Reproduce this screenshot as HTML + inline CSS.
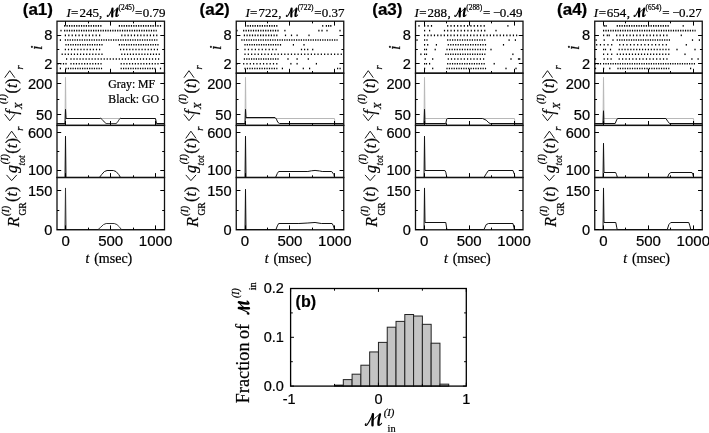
<!DOCTYPE html><html><head><meta charset="utf-8"><style>html,body{margin:0;padding:0;background:#fff;}svg{display:block;will-change:transform;}text{stroke:#000;stroke-width:0.22px;}</style></head><body>
<svg width="709" height="433" viewBox="0 0 709 433">
<rect width="709" height="433" fill="#fff"/>
<path d="M64.1 25.87 H101.5" stroke="#000" stroke-width="1.6" stroke-dasharray="1.2 1.21"/>
<path d="M118.8 25.87 H158.6" stroke="#000" stroke-width="1.6" stroke-dasharray="1.2 1.21"/>
<rect x="159.9" y="25.07" width="1.2" height="1.6" fill="#000"/>
<rect x="60.4" y="29.8" width="1.2" height="1.6" fill="#000"/>
<path d="M64.1 30.6 H156.7" stroke="#000" stroke-width="1.6" stroke-dasharray="1.2 1.21"/>
<path d="M64.8 35.34 H100.2" stroke="#000" stroke-width="1.6" stroke-dasharray="1.2 2.22"/>
<path d="M121.2 35.34 H157.4" stroke="#000" stroke-width="1.6" stroke-dasharray="1.2 1.98"/>
<rect x="59.8" y="39.27" width="1.2" height="1.6" fill="#000"/>
<path d="M64.8 40.07 H157.4" stroke="#000" stroke-width="1.6" stroke-dasharray="1.2 1.21"/>
<path d="M65.4 44.8 H102.6" stroke="#000" stroke-width="1.6" stroke-dasharray="1.2 1.2"/>
<path d="M118.8 44.8 H158.6" stroke="#000" stroke-width="1.6" stroke-dasharray="1.2 1.21"/>
<path d="M64.8 49.54 H100.2" stroke="#000" stroke-width="1.6" stroke-dasharray="1.2 1.91"/>
<path d="M120 49.54 H158" stroke="#000" stroke-width="1.6" stroke-dasharray="1.2 1.87"/>
<path d="M61.6 54.27 H102.6" stroke="#000" stroke-width="1.6" stroke-dasharray="1.2 1.86"/>
<path d="M121.2 54.27 H159.9" stroke="#000" stroke-width="1.6" stroke-dasharray="1.2 1.68"/>
<rect x="66" y="58.2" width="1.2" height="1.6" fill="#000"/>
<path d="M70.4 59 H159.2" stroke="#000" stroke-width="1.6" stroke-dasharray="1.2 1.82"/>
<path d="M57.4 63.73 H64.1" stroke="#000" stroke-width="1.6" stroke-dasharray="1.2 1.55"/>
<rect x="65.4" y="62.93" width="1.2" height="1.6" fill="#000"/>
<path d="M70.4 63.73 H101.6" stroke="#000" stroke-width="1.6" stroke-dasharray="1.2 1.53"/>
<path d="M120.6 63.73 H158.6" stroke="#000" stroke-width="1.6" stroke-dasharray="1.2 1.63"/>
<rect x="59.8" y="67.67" width="1.2" height="1.6" fill="#000"/>
<path d="M65.4 68.47 H102.1" stroke="#000" stroke-width="1.6" stroke-dasharray="1.2 1.17"/>
<path d="M120.6 68.47 H155.5" stroke="#000" stroke-width="1.6" stroke-dasharray="1.2 1.21"/>
<rect x="159.9" y="67.67" width="1.2" height="1.6" fill="#000"/>
<path d="M56.77 124.5 L65 124.5 L65.5 77.38 L66 118.5 L155.5 118.5 L156 124.5 L164.53 124.5" fill="none" stroke="#b8b8b8" stroke-width="1.0" stroke-linejoin="round" />
<path d="M56.77 123.5 L65 123.5 L65.5 109.32 L66 118.5 L99.96 118.5 L100.68 118.27 L101.4 118.75 L102.12 119.45 L102.84 120.27 L103.56 121.13 L104.27 121.96 L104.99 122.65 L105.71 123.13 L106.43 123.5 L107.15 123.5 L107.87 123.5 L108.58 123.5 L109.3 123.5 L110.02 123.5 L110.74 123.5 L111.46 123.5 L112.18 123.5 L112.9 123.5 L113.61 123.5 L114.33 123.5 L115.05 123.5 L115.77 123.5 L116.49 123.19 L117.21 122.55 L117.92 121.56 L118.64 120.41 L119.36 119.32 L120.08 118.48 L120.8 118.1 L120.89 118.5 L155.5 118.5 L156.5 123.5 L164.53 123.5" fill="none" stroke="#111" stroke-width="1.0" stroke-linejoin="round" />
<path d="M56.77 177.5 L65 177.5 L65.5 136.19 L66 177.5 L99.43 177.5 L101.67 174.52 L104.36 171.55 L107.06 170.5 L113.34 170.5 L116.04 171.55 L118.73 174.52 L120.53 177.5 L164.53 177.5" fill="none" stroke="#111" stroke-width="1.0" stroke-linejoin="round" />
<path d="M56.77 229.5 L65 229.5 L65.5 187.96 L66 229.5 L98.08 229.5 L100.77 227.19 L103.47 224.57 L106.16 223.5 L114.24 223.5 L116.94 224.57 L119.63 227.19 L121.43 229.5 L164.53 229.5" fill="none" stroke="#333" stroke-width="1.0" stroke-linejoin="round" />
<rect x="57" y="21.2" width="107.5" height="52" fill="none" stroke="#111" stroke-width="1.3"/>
<path d="M65.5 73.2 V68.8" stroke="#000" stroke-width="1"/>
<path d="M65.5 21.2 V25.6" stroke="#000" stroke-width="1"/>
<path d="M88.5 73.2 V71" stroke="#000" stroke-width="1"/>
<path d="M88.5 21.2 V23.4" stroke="#000" stroke-width="1"/>
<path d="M110.5 73.2 V68.8" stroke="#000" stroke-width="1"/>
<path d="M110.5 21.2 V25.6" stroke="#000" stroke-width="1"/>
<path d="M133.5 73.2 V71" stroke="#000" stroke-width="1"/>
<path d="M133.5 21.2 V23.4" stroke="#000" stroke-width="1"/>
<path d="M155.5 73.2 V68.8" stroke="#000" stroke-width="1"/>
<path d="M155.5 21.2 V25.6" stroke="#000" stroke-width="1"/>
<rect x="57" y="73.2" width="107.5" height="52.2" fill="none" stroke="#111" stroke-width="1.3"/>
<path d="M65.5 125.4 V121" stroke="#000" stroke-width="1"/>
<path d="M88.5 125.4 V123.2" stroke="#000" stroke-width="1"/>
<path d="M110.5 125.4 V121" stroke="#000" stroke-width="1"/>
<path d="M133.5 125.4 V123.2" stroke="#000" stroke-width="1"/>
<path d="M155.5 125.4 V121" stroke="#000" stroke-width="1"/>
<rect x="57" y="125.4" width="107.5" height="52.1" fill="none" stroke="#111" stroke-width="1.3"/>
<path d="M65.5 177.5 V173.1" stroke="#000" stroke-width="1"/>
<path d="M88.5 177.5 V175.3" stroke="#000" stroke-width="1"/>
<path d="M110.5 177.5 V173.1" stroke="#000" stroke-width="1"/>
<path d="M133.5 177.5 V175.3" stroke="#000" stroke-width="1"/>
<path d="M155.5 177.5 V173.1" stroke="#000" stroke-width="1"/>
<rect x="57" y="177.5" width="107.5" height="52.3" fill="none" stroke="#111" stroke-width="1.3"/>
<path d="M65.5 229.8 V225.4" stroke="#000" stroke-width="1"/>
<path d="M88.5 229.8 V227.6" stroke="#000" stroke-width="1"/>
<path d="M110.5 229.8 V225.4" stroke="#000" stroke-width="1"/>
<path d="M133.5 229.8 V227.6" stroke="#000" stroke-width="1"/>
<path d="M155.5 229.8 V225.4" stroke="#000" stroke-width="1"/>
<path d="M57 63.5 H61.2 M164.5 63.5 H160.3" stroke="#000" stroke-width="1"/>
<path d="M57 49.5 H59.3 M164.5 49.5 H162.2" stroke="#000" stroke-width="1"/>
<path d="M57 35.5 H61.2 M164.5 35.5 H160.3" stroke="#000" stroke-width="1"/>
<path d="M57 114.5 H61.2 M164.5 114.5 H160.3" stroke="#000" stroke-width="1"/>
<path d="M57 99.5 H59.3 M164.5 99.5 H162.2" stroke="#000" stroke-width="1"/>
<path d="M57 83.5 H61.2 M164.5 83.5 H160.3" stroke="#000" stroke-width="1"/>
<path d="M57 170.5 H61.2 M164.5 170.5 H160.3" stroke="#000" stroke-width="1"/>
<path d="M57 151.5 H59.3 M164.5 151.5 H162.2" stroke="#000" stroke-width="1"/>
<path d="M57 132.5 H61.2 M164.5 132.5 H160.3" stroke="#000" stroke-width="1"/>
<path d="M57 229.5 H61.2 M164.5 229.5 H160.3" stroke="#000" stroke-width="1"/>
<path d="M57 210.5 H59.3 M164.5 210.5 H162.2" stroke="#000" stroke-width="1"/>
<path d="M57 190.5 H61.2 M164.5 190.5 H160.3" stroke="#000" stroke-width="1"/>
<text x="52.3" y="40.44" font-family='"Liberation Sans", sans-serif' font-size="14.6" text-anchor="end" fill="#000">8</text>
<text x="52.3" y="68.83" font-family='"Liberation Sans", sans-serif' font-size="14.6" text-anchor="end" fill="#000">2</text>
<text x="52.3" y="88.74" font-family='"Liberation Sans", sans-serif' font-size="14.6" text-anchor="end" fill="#000">200</text>
<text x="52.3" y="120.06" font-family='"Liberation Sans", sans-serif' font-size="14.6" text-anchor="end" fill="#000">50</text>
<text x="52.3" y="137.94" font-family='"Liberation Sans", sans-serif' font-size="14.6" text-anchor="end" fill="#000">600</text>
<text x="52.3" y="175.16" font-family='"Liberation Sans", sans-serif' font-size="14.6" text-anchor="end" fill="#000">100</text>
<text x="52.3" y="195.68" font-family='"Liberation Sans", sans-serif' font-size="14.6" text-anchor="end" fill="#000">150</text>
<text x="52.3" y="234.9" font-family='"Liberation Sans", sans-serif' font-size="14.6" text-anchor="end" fill="#000">0</text>
<text x="65.75" y="245.6" font-family='"Liberation Sans", sans-serif' font-size="15" text-anchor="middle" fill="#000">0</text>
<text x="110.65" y="245.6" font-family='"Liberation Sans", sans-serif' font-size="15" text-anchor="middle" fill="#000">500</text>
<text x="155.55" y="245.6" font-family='"Liberation Sans", sans-serif' font-size="15" text-anchor="middle" fill="#000">1000</text>
<text x="85.5" y="262.8" font-family='"Liberation Serif", serif' font-size="14" font-style="italic" fill="#000">t</text>
<text x="94.2" y="262.8" font-family='"Liberation Serif", serif' font-size="14" fill="#000">(msec)</text>
<text x="66.45" y="17" font-family='"Liberation Serif", serif' font-size="13" fill="#000" font-style="italic">I</text>
<text x="70.95" y="17" font-family='"Liberation Serif", serif' font-size="13" fill="#000">=</text>
<text x="79.5" y="17" font-family='"Liberation Serif", serif' font-size="13" fill="#000">245</text>
<text x="99.05" y="17" font-family='"Liberation Serif", serif' font-size="13" fill="#000">,</text>
<text x="135.05" y="17" font-family='"Liberation Serif", serif' font-size="13" fill="#000">=</text>
<text x="142.75" y="17" font-family='"Liberation Serif", serif' font-size="13" fill="#000">0.79</text>
<g transform="translate(106.8,8) scale(0.6954,0.7087)" fill="none" stroke="#000" stroke-linecap="round" stroke-linejoin="round">
<path d="M1.2 10.2C0 11.2 0.6 12.4 1.8 11.8C3.5 10.8 6 5 8 1" stroke-width="1.43"/>
<path d="M8.2 0.9C8 4.5 7.7 8.5 7.8 11.9" stroke-width="3.12"/>
<path d="M8.3 6.8C10.5 4.5 13 2 15.2 0.9" stroke-width="1.3"/>
<path d="M15.3 0.9C14.4 4.5 13.4 9 13.8 11.3" stroke-width="2.99"/>
<path d="M13.8 11.3C14.3 12.3 15.8 11.5 16.9 9.9" stroke-width="1.43"/>
</g>
<text x="118.6" y="9.6" font-family='"Liberation Serif", serif' font-size="7.3" fill="#000">(245)</text>
<text x="22.75" y="15.1" font-family='"Liberation Sans", sans-serif' font-size="17" font-weight="bold" fill="#000">(a1)</text>
<g transform="translate(41.7,47.1) rotate(-90)">
<text x="-2.9" y="0" font-family='"Liberation Serif", serif' font-size="16.5" font-style="italic" fill="#000">i</text>
</g>
<g transform="translate(16.5,121.5) rotate(-90)">
<path d="M7.2 -11.8 L0.8 -6.75 L7.2 -1.7" fill="none" stroke="#000" stroke-width="0.9"/>
<text x="7" y="0" font-family='"Liberation Serif", serif' font-size="16" font-style="italic" fill="#000">f</text>
<text x="12.5" y="5.5" font-family='"Liberation Serif", serif' font-size="10.5" font-style="italic" fill="#000">X</text>
<text x="17.4" y="-10.2" font-family='"Liberation Serif", serif' font-size="10" font-style="italic" fill="#000">(I)</text>
<text x="28.1" y="0" font-family='"Liberation Serif", serif' font-size="16" fill="#000">(<tspan font-style="italic">t</tspan>)</text>
<path d="M43.8 -11.8 L50.8 -6.75 L43.8 -1.7" fill="none" stroke="#000" stroke-width="0.9"/>
<text x="52" y="6.5" font-family='"Liberation Serif", serif' font-size="10.5" font-style="italic" fill="#000">r</text>
</g>
<g transform="translate(17,181) rotate(-90)">
<path d="M6.1 -10.5 L0.4 -5.35 L6.1 -0.2" fill="none" stroke="#000" stroke-width="0.9"/>
<text x="8.1" y="0" font-family='"Liberation Serif", serif' font-size="16" font-style="italic" fill="#000">g</text>
<text x="15.5" y="7.6" font-family='"Liberation Serif", serif' font-size="9.5" font-style="italic" fill="#000">tot</text>
<text x="16.8" y="-9.5" font-family='"Liberation Serif", serif' font-size="10" font-style="italic" fill="#000">(I)</text>
<text x="27.3" y="0" font-family='"Liberation Serif", serif' font-size="16.5" fill="#000">(<tspan font-style="italic">t</tspan>)</text>
<path d="M42.6 -10.5 L49.8 -5.35 L42.6 -0.2" fill="none" stroke="#000" stroke-width="0.9"/>
<text x="50.3" y="6.4" font-family='"Liberation Serif", serif' font-size="10.5" font-style="italic" fill="#000">r</text>
</g>
<g transform="translate(18.5,227.3) rotate(-90)">
<text x="0.4" y="0" font-family='"Liberation Serif", serif' font-size="16.5" font-style="italic" fill="#000">R</text>
<text x="11.8" y="7.5" font-family='"Liberation Serif", serif' font-size="9.5" fill="#000">GR</text>
<text x="11.4" y="-9.4" font-family='"Liberation Serif", serif' font-size="10" font-style="italic" fill="#000">(I)</text>
<text x="25.2" y="-1.6" font-family='"Liberation Serif", serif' font-size="16.5" fill="#000">(<tspan font-style="italic">t</tspan>)</text>
</g>
<path d="M245 25.87 H277.4" stroke="#000" stroke-width="1.6" stroke-dasharray="1.2 1.2"/>
<rect x="322.1" y="25.07" width="1.2" height="1.6" fill="#000"/>
<path d="M325.8 25.87 H331.4" stroke="#000" stroke-width="1.6" stroke-dasharray="1.2 1"/>
<rect x="236.4" y="29.8" width="1.2" height="1.6" fill="#000"/>
<path d="M243.1 30.6 H278.6" stroke="#000" stroke-width="1.6" stroke-dasharray="1.2 1.25"/>
<rect x="284.3" y="29.8" width="1.2" height="1.6" fill="#000"/>
<path d="M318.3 30.6 H322.6" stroke="#000" stroke-width="1.6" stroke-dasharray="1.2 1.9"/>
<rect x="326.4" y="29.8" width="1.2" height="1.6" fill="#000"/>
<rect x="339.4" y="29.8" width="1.2" height="1.6" fill="#000"/>
<path d="M243.8 35.34 H277.4" stroke="#000" stroke-width="1.6" stroke-dasharray="1.2 1.5"/>
<rect x="284.9" y="34.54" width="1.2" height="1.6" fill="#000"/>
<rect x="290.9" y="34.54" width="1.2" height="1.6" fill="#000"/>
<rect x="296.5" y="34.54" width="1.2" height="1.6" fill="#000"/>
<rect x="308.4" y="34.54" width="1.2" height="1.6" fill="#000"/>
<path d="M241.3 40.07 H337.6" stroke="#000" stroke-width="1.6" stroke-dasharray="1.2 1.18"/>
<path d="M244.4 44.8 H278.6" stroke="#000" stroke-width="1.6" stroke-dasharray="1.2 1.16"/>
<rect x="279.9" y="44" width="1.2" height="1.6" fill="#000"/>
<rect x="292.8" y="44" width="1.2" height="1.6" fill="#000"/>
<rect x="303.4" y="44" width="1.2" height="1.6" fill="#000"/>
<path d="M244.4 49.54 H276.7" stroke="#000" stroke-width="1.6" stroke-dasharray="1.2 2.26"/>
<path d="M300.9 49.54 H308.3" stroke="#000" stroke-width="1.6" stroke-dasharray="1.2 1.9"/>
<rect x="312.1" y="48.74" width="1.2" height="1.6" fill="#000"/>
<path d="M244.4 54.27 H342" stroke="#000" stroke-width="1.6" stroke-dasharray="1.2 2.12"/>
<path d="M243.8 59 H278.6" stroke="#000" stroke-width="1.6" stroke-dasharray="1.2 1.2"/>
<rect x="287.4" y="58.2" width="1.2" height="1.6" fill="#000"/>
<rect x="296.5" y="58.2" width="1.2" height="1.6" fill="#000"/>
<rect x="307.7" y="58.2" width="1.2" height="1.6" fill="#000"/>
<rect x="236.4" y="62.93" width="1.2" height="1.6" fill="#000"/>
<path d="M243.1 63.73 H277.4" stroke="#000" stroke-width="1.6" stroke-dasharray="1.2 2.11"/>
<rect x="290.3" y="62.93" width="1.2" height="1.6" fill="#000"/>
<rect x="296.5" y="62.93" width="1.2" height="1.6" fill="#000"/>
<rect x="315.8" y="62.93" width="1.2" height="1.6" fill="#000"/>
<path d="M244.4 68.47 H277.4" stroke="#000" stroke-width="1.6" stroke-dasharray="1.2 1.25"/>
<rect x="281.8" y="67.67" width="1.2" height="1.6" fill="#000"/>
<rect x="302.7" y="67.67" width="1.2" height="1.6" fill="#000"/>
<rect x="309" y="67.67" width="1.2" height="1.6" fill="#000"/>
<path d="M337 68.47 H340.7" stroke="#000" stroke-width="1.6" stroke-dasharray="1.2 1.3"/>
<path d="M236.02 124.5 L245 124.5 L245.5 77.38 L246 118.5 L334.5 118.5 L335 124.5 L343.78 124.5" fill="none" stroke="#b8b8b8" stroke-width="1.0" stroke-linejoin="round" />
<path d="M236.02 123.5 L245 123.5 L245.5 109.32 L246 117.5 L275.08 117.5 L276.43 119.14 L277.78 122.27 L279.57 123.5 L334.5 123.5 L343.78 123.5" fill="none" stroke="#111" stroke-width="1.0" stroke-linejoin="round" />
<path d="M236.02 177.5 L245 177.5 L245.5 136.19 L246 177.5 L275.53 177.5 L277.33 173.41 L278.68 171.5 L307.86 171.5 L311.45 170.8 L315.04 170.43 L319.53 170.95 L322.23 171.5 L331.66 171.5 L333.9 174.52 L334.5 177.5 L343.78 177.5" fill="none" stroke="#111" stroke-width="1.0" stroke-linejoin="round" />
<path d="M236.02 229.5 L245 229.5 L245.5 189.27 L246 229.5 L275.98 229.5 L277.33 225.88 L278.68 223.5 L298.88 223.5 L307.86 223 L315.04 222.48 L321.33 223.5 L332.11 223.5 L333.45 225.88 L334.5 229.5 L343.78 229.5" fill="none" stroke="#111" stroke-width="1.0" stroke-linejoin="round" />
<rect x="236.25" y="21.2" width="107.5" height="52" fill="none" stroke="#111" stroke-width="1.3"/>
<path d="M245.5 73.2 V68.8" stroke="#000" stroke-width="1"/>
<path d="M245.5 21.2 V25.6" stroke="#000" stroke-width="1"/>
<path d="M267.5 73.2 V71" stroke="#000" stroke-width="1"/>
<path d="M267.5 21.2 V23.4" stroke="#000" stroke-width="1"/>
<path d="M289.5 73.2 V68.8" stroke="#000" stroke-width="1"/>
<path d="M289.5 21.2 V25.6" stroke="#000" stroke-width="1"/>
<path d="M312.5 73.2 V71" stroke="#000" stroke-width="1"/>
<path d="M312.5 21.2 V23.4" stroke="#000" stroke-width="1"/>
<path d="M334.5 73.2 V68.8" stroke="#000" stroke-width="1"/>
<path d="M334.5 21.2 V25.6" stroke="#000" stroke-width="1"/>
<rect x="236.25" y="73.2" width="107.5" height="52.2" fill="none" stroke="#111" stroke-width="1.3"/>
<path d="M245.5 125.4 V121" stroke="#000" stroke-width="1"/>
<path d="M267.5 125.4 V123.2" stroke="#000" stroke-width="1"/>
<path d="M289.5 125.4 V121" stroke="#000" stroke-width="1"/>
<path d="M312.5 125.4 V123.2" stroke="#000" stroke-width="1"/>
<path d="M334.5 125.4 V121" stroke="#000" stroke-width="1"/>
<rect x="236.25" y="125.4" width="107.5" height="52.1" fill="none" stroke="#111" stroke-width="1.3"/>
<path d="M245.5 177.5 V173.1" stroke="#000" stroke-width="1"/>
<path d="M267.5 177.5 V175.3" stroke="#000" stroke-width="1"/>
<path d="M289.5 177.5 V173.1" stroke="#000" stroke-width="1"/>
<path d="M312.5 177.5 V175.3" stroke="#000" stroke-width="1"/>
<path d="M334.5 177.5 V173.1" stroke="#000" stroke-width="1"/>
<rect x="236.25" y="177.5" width="107.5" height="52.3" fill="none" stroke="#111" stroke-width="1.3"/>
<path d="M245.5 229.8 V225.4" stroke="#000" stroke-width="1"/>
<path d="M267.5 229.8 V227.6" stroke="#000" stroke-width="1"/>
<path d="M289.5 229.8 V225.4" stroke="#000" stroke-width="1"/>
<path d="M312.5 229.8 V227.6" stroke="#000" stroke-width="1"/>
<path d="M334.5 229.8 V225.4" stroke="#000" stroke-width="1"/>
<path d="M236.25 63.5 H240.45 M343.75 63.5 H339.55" stroke="#000" stroke-width="1"/>
<path d="M236.25 49.5 H238.55 M343.75 49.5 H341.45" stroke="#000" stroke-width="1"/>
<path d="M236.25 35.5 H240.45 M343.75 35.5 H339.55" stroke="#000" stroke-width="1"/>
<path d="M236.25 114.5 H240.45 M343.75 114.5 H339.55" stroke="#000" stroke-width="1"/>
<path d="M236.25 99.5 H238.55 M343.75 99.5 H341.45" stroke="#000" stroke-width="1"/>
<path d="M236.25 83.5 H240.45 M343.75 83.5 H339.55" stroke="#000" stroke-width="1"/>
<path d="M236.25 170.5 H240.45 M343.75 170.5 H339.55" stroke="#000" stroke-width="1"/>
<path d="M236.25 151.5 H238.55 M343.75 151.5 H341.45" stroke="#000" stroke-width="1"/>
<path d="M236.25 132.5 H240.45 M343.75 132.5 H339.55" stroke="#000" stroke-width="1"/>
<path d="M236.25 229.5 H240.45 M343.75 229.5 H339.55" stroke="#000" stroke-width="1"/>
<path d="M236.25 210.5 H238.55 M343.75 210.5 H341.45" stroke="#000" stroke-width="1"/>
<path d="M236.25 190.5 H240.45 M343.75 190.5 H339.55" stroke="#000" stroke-width="1"/>
<text x="231.55" y="40.44" font-family='"Liberation Sans", sans-serif' font-size="14.6" text-anchor="end" fill="#000">8</text>
<text x="231.55" y="68.83" font-family='"Liberation Sans", sans-serif' font-size="14.6" text-anchor="end" fill="#000">2</text>
<text x="231.55" y="88.74" font-family='"Liberation Sans", sans-serif' font-size="14.6" text-anchor="end" fill="#000">200</text>
<text x="231.55" y="120.06" font-family='"Liberation Sans", sans-serif' font-size="14.6" text-anchor="end" fill="#000">50</text>
<text x="231.55" y="137.94" font-family='"Liberation Sans", sans-serif' font-size="14.6" text-anchor="end" fill="#000">600</text>
<text x="231.55" y="175.16" font-family='"Liberation Sans", sans-serif' font-size="14.6" text-anchor="end" fill="#000">100</text>
<text x="231.55" y="195.68" font-family='"Liberation Sans", sans-serif' font-size="14.6" text-anchor="end" fill="#000">150</text>
<text x="231.55" y="234.9" font-family='"Liberation Sans", sans-serif' font-size="14.6" text-anchor="end" fill="#000">0</text>
<text x="245" y="245.6" font-family='"Liberation Sans", sans-serif' font-size="15" text-anchor="middle" fill="#000">0</text>
<text x="289.9" y="245.6" font-family='"Liberation Sans", sans-serif' font-size="15" text-anchor="middle" fill="#000">500</text>
<text x="334.8" y="245.6" font-family='"Liberation Sans", sans-serif' font-size="15" text-anchor="middle" fill="#000">1000</text>
<text x="264.75" y="262.8" font-family='"Liberation Serif", serif' font-size="14" font-style="italic" fill="#000">t</text>
<text x="273.45" y="262.8" font-family='"Liberation Serif", serif' font-size="14" fill="#000">(msec)</text>
<text x="245.55" y="17" font-family='"Liberation Serif", serif' font-size="13" fill="#000" font-style="italic">I</text>
<text x="250.05" y="17" font-family='"Liberation Serif", serif' font-size="13" fill="#000">=</text>
<text x="258.6" y="17" font-family='"Liberation Serif", serif' font-size="13" fill="#000">722</text>
<text x="278.15" y="17" font-family='"Liberation Serif", serif' font-size="13" fill="#000">,</text>
<text x="314.15" y="17" font-family='"Liberation Serif", serif' font-size="13" fill="#000">=</text>
<text x="321.85" y="17" font-family='"Liberation Serif", serif' font-size="13" fill="#000">0.37</text>
<g transform="translate(285.9,8) scale(0.6954,0.7087)" fill="none" stroke="#000" stroke-linecap="round" stroke-linejoin="round">
<path d="M1.2 10.2C0 11.2 0.6 12.4 1.8 11.8C3.5 10.8 6 5 8 1" stroke-width="1.43"/>
<path d="M8.2 0.9C8 4.5 7.7 8.5 7.8 11.9" stroke-width="3.12"/>
<path d="M8.3 6.8C10.5 4.5 13 2 15.2 0.9" stroke-width="1.3"/>
<path d="M15.3 0.9C14.4 4.5 13.4 9 13.8 11.3" stroke-width="2.99"/>
<path d="M13.8 11.3C14.3 12.3 15.8 11.5 16.9 9.9" stroke-width="1.43"/>
</g>
<text x="297.7" y="9.6" font-family='"Liberation Serif", serif' font-size="7.3" fill="#000">(722)</text>
<text x="199.55" y="15.1" font-family='"Liberation Sans", sans-serif' font-size="17" font-weight="bold" fill="#000">(a2)</text>
<g transform="translate(220.95,47.1) rotate(-90)">
<text x="-2.9" y="0" font-family='"Liberation Serif", serif' font-size="16.5" font-style="italic" fill="#000">i</text>
</g>
<g transform="translate(195.75,121.5) rotate(-90)">
<path d="M7.2 -11.8 L0.8 -6.75 L7.2 -1.7" fill="none" stroke="#000" stroke-width="0.9"/>
<text x="7" y="0" font-family='"Liberation Serif", serif' font-size="16" font-style="italic" fill="#000">f</text>
<text x="12.5" y="5.5" font-family='"Liberation Serif", serif' font-size="10.5" font-style="italic" fill="#000">X</text>
<text x="17.4" y="-10.2" font-family='"Liberation Serif", serif' font-size="10" font-style="italic" fill="#000">(I)</text>
<text x="28.1" y="0" font-family='"Liberation Serif", serif' font-size="16" fill="#000">(<tspan font-style="italic">t</tspan>)</text>
<path d="M43.8 -11.8 L50.8 -6.75 L43.8 -1.7" fill="none" stroke="#000" stroke-width="0.9"/>
<text x="52" y="6.5" font-family='"Liberation Serif", serif' font-size="10.5" font-style="italic" fill="#000">r</text>
</g>
<g transform="translate(196.25,181) rotate(-90)">
<path d="M6.1 -10.5 L0.4 -5.35 L6.1 -0.2" fill="none" stroke="#000" stroke-width="0.9"/>
<text x="8.1" y="0" font-family='"Liberation Serif", serif' font-size="16" font-style="italic" fill="#000">g</text>
<text x="15.5" y="7.6" font-family='"Liberation Serif", serif' font-size="9.5" font-style="italic" fill="#000">tot</text>
<text x="16.8" y="-9.5" font-family='"Liberation Serif", serif' font-size="10" font-style="italic" fill="#000">(I)</text>
<text x="27.3" y="0" font-family='"Liberation Serif", serif' font-size="16.5" fill="#000">(<tspan font-style="italic">t</tspan>)</text>
<path d="M42.6 -10.5 L49.8 -5.35 L42.6 -0.2" fill="none" stroke="#000" stroke-width="0.9"/>
<text x="50.3" y="6.4" font-family='"Liberation Serif", serif' font-size="10.5" font-style="italic" fill="#000">r</text>
</g>
<g transform="translate(197.75,227.3) rotate(-90)">
<text x="0.4" y="0" font-family='"Liberation Serif", serif' font-size="16.5" font-style="italic" fill="#000">R</text>
<text x="11.8" y="7.5" font-family='"Liberation Serif", serif' font-size="9.5" fill="#000">GR</text>
<text x="11.4" y="-9.4" font-family='"Liberation Serif", serif' font-size="10" font-style="italic" fill="#000">(I)</text>
<text x="25.2" y="-1.6" font-family='"Liberation Serif", serif' font-size="16.5" fill="#000">(<tspan font-style="italic">t</tspan>)</text>
</g>
<rect x="418.4" y="25.07" width="1.2" height="1.6" fill="#000"/>
<path d="M424 25.87 H432.1" stroke="#000" stroke-width="1.6" stroke-dasharray="1.2 2.25"/>
<path d="M447.1 25.87 H484.8" stroke="#000" stroke-width="1.6" stroke-dasharray="1.2 2.12"/>
<rect x="507.3" y="25.07" width="1.2" height="1.6" fill="#000"/>
<rect x="424" y="29.8" width="1.2" height="1.6" fill="#000"/>
<rect x="429" y="29.8" width="1.2" height="1.6" fill="#000"/>
<rect x="443.9" y="29.8" width="1.2" height="1.6" fill="#000"/>
<path d="M447.1 30.6 H485.4" stroke="#000" stroke-width="1.6" stroke-dasharray="1.2 2.17"/>
<rect x="495.4" y="29.8" width="1.2" height="1.6" fill="#000"/>
<path d="M424 35.34 H517.2" stroke="#000" stroke-width="1.6" stroke-dasharray="1.2 2.09"/>
<rect x="416.4" y="39.27" width="1.2" height="1.6" fill="#000"/>
<path d="M424 40.07 H427.6" stroke="#000" stroke-width="1.6" stroke-dasharray="1.2 1.2"/>
<path d="M447.1 40.07 H485.4" stroke="#000" stroke-width="1.6" stroke-dasharray="1.2 1.27"/>
<rect x="508.5" y="39.27" width="1.2" height="1.6" fill="#000"/>
<rect x="514.8" y="39.27" width="1.2" height="1.6" fill="#000"/>
<rect x="424" y="44" width="1.2" height="1.6" fill="#000"/>
<rect x="427.1" y="44" width="1.2" height="1.6" fill="#000"/>
<rect x="435.8" y="44" width="1.2" height="1.6" fill="#000"/>
<path d="M447.7 44.8 H486.1" stroke="#000" stroke-width="1.6" stroke-dasharray="1.2 1.28"/>
<rect x="502.9" y="44" width="1.2" height="1.6" fill="#000"/>
<path d="M424 49.54 H427.1" stroke="#000" stroke-width="1.6" stroke-dasharray="1.2 0.7"/>
<rect x="434.6" y="48.74" width="1.2" height="1.6" fill="#000"/>
<path d="M446.4 49.54 H486.1" stroke="#000" stroke-width="1.6" stroke-dasharray="1.2 1.37"/>
<rect x="490.4" y="48.74" width="1.2" height="1.6" fill="#000"/>
<rect x="420.3" y="53.47" width="1.2" height="1.6" fill="#000"/>
<path d="M424 54.27 H427.1" stroke="#000" stroke-width="1.6" stroke-dasharray="1.2 0.7"/>
<path d="M445.2 54.27 H485.4" stroke="#000" stroke-width="1.6" stroke-dasharray="1.2 1.24"/>
<rect x="512.3" y="53.47" width="1.2" height="1.6" fill="#000"/>
<rect x="424.6" y="58.2" width="1.2" height="1.6" fill="#000"/>
<rect x="432.1" y="58.2" width="1.2" height="1.6" fill="#000"/>
<path d="M447.7 59 H484.2" stroke="#000" stroke-width="1.6" stroke-dasharray="1.2 2.01"/>
<rect x="510.4" y="58.2" width="1.2" height="1.6" fill="#000"/>
<path d="M517.9 59 H520.3" stroke="#000" stroke-width="1.6" stroke-dasharray="1.2 0"/>
<path d="M424 63.73 H427.1" stroke="#000" stroke-width="1.6" stroke-dasharray="1.2 0.7"/>
<rect x="429" y="62.93" width="1.2" height="1.6" fill="#000"/>
<path d="M447.1 63.73 H484.8" stroke="#000" stroke-width="1.6" stroke-dasharray="1.2 1.23"/>
<rect x="493.6" y="62.93" width="1.2" height="1.6" fill="#000"/>
<rect x="424" y="67.67" width="1.2" height="1.6" fill="#000"/>
<rect x="432.1" y="67.67" width="1.2" height="1.6" fill="#000"/>
<path d="M446.4 68.47 H486.1" stroke="#000" stroke-width="1.6" stroke-dasharray="1.2 1.21"/>
<rect x="505.4" y="67.67" width="1.2" height="1.6" fill="#000"/>
<rect x="515.4" y="67.67" width="1.2" height="1.6" fill="#000"/>
<path d="M415.27 124.5 L424 124.5 L424.5 77.38 L425 118.5 L514.5 118.5 L515 124.5 L523.03 124.5" fill="none" stroke="#b8b8b8" stroke-width="1.0" stroke-linejoin="round" />
<path d="M415.27 123.5 L424 123.5 L424.5 109.32 L425 123.5 L445.8 123.5 L446.7 119.14 L447.6 118.5 L482.62 118.5 L486.21 120.18 L488.91 122.89 L490.25 123.5 L514.5 123.5 L523.03 123.5" fill="none" stroke="#111" stroke-width="1.0" stroke-linejoin="round" />
<path d="M415.27 177.5 L424 177.5 L424.5 136.19 L425 170.5 L444.9 170.5 L445.8 172.29 L446.88 177.5 L483.97 177.5 L486.21 173.78 L488.46 170.5 L512.97 170.5 L514.5 174.52 L514.77 177.5 L523.03 177.5" fill="none" stroke="#111" stroke-width="1.0" stroke-linejoin="round" />
<path d="M415.27 229.5 L424 229.5 L424.5 187.96 L425 222.5 L445.8 222.5 L446.52 227.19 L446.88 229.5 L483.97 229.5 L486.21 224.57 L488.55 223.5 L512.97 223.5 L513.87 227.19 L514.32 229.5 L523.03 229.5" fill="none" stroke="#111" stroke-width="1.0" stroke-linejoin="round" />
<rect x="415.5" y="21.2" width="107.5" height="52" fill="none" stroke="#111" stroke-width="1.3"/>
<path d="M424.5 73.2 V68.8" stroke="#000" stroke-width="1"/>
<path d="M424.5 21.2 V25.6" stroke="#000" stroke-width="1"/>
<path d="M446.5 73.2 V71" stroke="#000" stroke-width="1"/>
<path d="M446.5 21.2 V23.4" stroke="#000" stroke-width="1"/>
<path d="M469.5 73.2 V68.8" stroke="#000" stroke-width="1"/>
<path d="M469.5 21.2 V25.6" stroke="#000" stroke-width="1"/>
<path d="M491.5 73.2 V71" stroke="#000" stroke-width="1"/>
<path d="M491.5 21.2 V23.4" stroke="#000" stroke-width="1"/>
<path d="M514.5 73.2 V68.8" stroke="#000" stroke-width="1"/>
<path d="M514.5 21.2 V25.6" stroke="#000" stroke-width="1"/>
<rect x="415.5" y="73.2" width="107.5" height="52.2" fill="none" stroke="#111" stroke-width="1.3"/>
<path d="M424.5 125.4 V121" stroke="#000" stroke-width="1"/>
<path d="M446.5 125.4 V123.2" stroke="#000" stroke-width="1"/>
<path d="M469.5 125.4 V121" stroke="#000" stroke-width="1"/>
<path d="M491.5 125.4 V123.2" stroke="#000" stroke-width="1"/>
<path d="M514.5 125.4 V121" stroke="#000" stroke-width="1"/>
<rect x="415.5" y="125.4" width="107.5" height="52.1" fill="none" stroke="#111" stroke-width="1.3"/>
<path d="M424.5 177.5 V173.1" stroke="#000" stroke-width="1"/>
<path d="M446.5 177.5 V175.3" stroke="#000" stroke-width="1"/>
<path d="M469.5 177.5 V173.1" stroke="#000" stroke-width="1"/>
<path d="M491.5 177.5 V175.3" stroke="#000" stroke-width="1"/>
<path d="M514.5 177.5 V173.1" stroke="#000" stroke-width="1"/>
<rect x="415.5" y="177.5" width="107.5" height="52.3" fill="none" stroke="#111" stroke-width="1.3"/>
<path d="M424.5 229.8 V225.4" stroke="#000" stroke-width="1"/>
<path d="M446.5 229.8 V227.6" stroke="#000" stroke-width="1"/>
<path d="M469.5 229.8 V225.4" stroke="#000" stroke-width="1"/>
<path d="M491.5 229.8 V227.6" stroke="#000" stroke-width="1"/>
<path d="M514.5 229.8 V225.4" stroke="#000" stroke-width="1"/>
<path d="M415.5 63.5 H419.7 M523 63.5 H518.8" stroke="#000" stroke-width="1"/>
<path d="M415.5 49.5 H417.8 M523 49.5 H520.7" stroke="#000" stroke-width="1"/>
<path d="M415.5 35.5 H419.7 M523 35.5 H518.8" stroke="#000" stroke-width="1"/>
<path d="M415.5 114.5 H419.7 M523 114.5 H518.8" stroke="#000" stroke-width="1"/>
<path d="M415.5 99.5 H417.8 M523 99.5 H520.7" stroke="#000" stroke-width="1"/>
<path d="M415.5 83.5 H419.7 M523 83.5 H518.8" stroke="#000" stroke-width="1"/>
<path d="M415.5 170.5 H419.7 M523 170.5 H518.8" stroke="#000" stroke-width="1"/>
<path d="M415.5 151.5 H417.8 M523 151.5 H520.7" stroke="#000" stroke-width="1"/>
<path d="M415.5 132.5 H419.7 M523 132.5 H518.8" stroke="#000" stroke-width="1"/>
<path d="M415.5 229.5 H419.7 M523 229.5 H518.8" stroke="#000" stroke-width="1"/>
<path d="M415.5 210.5 H417.8 M523 210.5 H520.7" stroke="#000" stroke-width="1"/>
<path d="M415.5 190.5 H419.7 M523 190.5 H518.8" stroke="#000" stroke-width="1"/>
<text x="410.8" y="40.44" font-family='"Liberation Sans", sans-serif' font-size="14.6" text-anchor="end" fill="#000">8</text>
<text x="410.8" y="68.83" font-family='"Liberation Sans", sans-serif' font-size="14.6" text-anchor="end" fill="#000">2</text>
<text x="410.8" y="88.74" font-family='"Liberation Sans", sans-serif' font-size="14.6" text-anchor="end" fill="#000">200</text>
<text x="410.8" y="120.06" font-family='"Liberation Sans", sans-serif' font-size="14.6" text-anchor="end" fill="#000">50</text>
<text x="410.8" y="137.94" font-family='"Liberation Sans", sans-serif' font-size="14.6" text-anchor="end" fill="#000">600</text>
<text x="410.8" y="175.16" font-family='"Liberation Sans", sans-serif' font-size="14.6" text-anchor="end" fill="#000">100</text>
<text x="410.8" y="195.68" font-family='"Liberation Sans", sans-serif' font-size="14.6" text-anchor="end" fill="#000">150</text>
<text x="410.8" y="234.9" font-family='"Liberation Sans", sans-serif' font-size="14.6" text-anchor="end" fill="#000">0</text>
<text x="424.25" y="245.6" font-family='"Liberation Sans", sans-serif' font-size="15" text-anchor="middle" fill="#000">0</text>
<text x="469.15" y="245.6" font-family='"Liberation Sans", sans-serif' font-size="15" text-anchor="middle" fill="#000">500</text>
<text x="514.05" y="245.6" font-family='"Liberation Sans", sans-serif' font-size="15" text-anchor="middle" fill="#000">1000</text>
<text x="444" y="262.8" font-family='"Liberation Serif", serif' font-size="14" font-style="italic" fill="#000">t</text>
<text x="452.7" y="262.8" font-family='"Liberation Serif", serif' font-size="14" fill="#000">(msec)</text>
<text x="414.55" y="17" font-family='"Liberation Serif", serif' font-size="13" fill="#000" font-style="italic">I</text>
<text x="419.35" y="17" font-family='"Liberation Serif", serif' font-size="13" fill="#000">=</text>
<text x="427.5" y="17" font-family='"Liberation Serif", serif' font-size="13" fill="#000">288</text>
<text x="447.5" y="17" font-family='"Liberation Serif", serif' font-size="13" fill="#000">,</text>
<text x="483.05" y="17" font-family='"Liberation Serif", serif' font-size="13" fill="#000">=</text>
<text x="493.05" y="17" font-family='"Liberation Serif", serif' font-size="13" fill="#000">−</text>
<text x="499.8" y="17" font-family='"Liberation Serif", serif' font-size="13" fill="#000">0.49</text>
<g transform="translate(454.3,8) scale(0.6954,0.7087)" fill="none" stroke="#000" stroke-linecap="round" stroke-linejoin="round">
<path d="M1.2 10.2C0 11.2 0.6 12.4 1.8 11.8C3.5 10.8 6 5 8 1" stroke-width="1.43"/>
<path d="M8.2 0.9C8 4.5 7.7 8.5 7.8 11.9" stroke-width="3.12"/>
<path d="M8.3 6.8C10.5 4.5 13 2 15.2 0.9" stroke-width="1.3"/>
<path d="M15.3 0.9C14.4 4.5 13.4 9 13.8 11.3" stroke-width="2.99"/>
<path d="M13.8 11.3C14.3 12.3 15.8 11.5 16.9 9.9" stroke-width="1.43"/>
</g>
<text x="466.3" y="9.6" font-family='"Liberation Serif", serif' font-size="7.3" fill="#000">(288)</text>
<text x="372.25" y="15.1" font-family='"Liberation Sans", sans-serif' font-size="17" font-weight="bold" fill="#000">(a3)</text>
<g transform="translate(400.2,47.1) rotate(-90)">
<text x="-2.9" y="0" font-family='"Liberation Serif", serif' font-size="16.5" font-style="italic" fill="#000">i</text>
</g>
<g transform="translate(375,121.5) rotate(-90)">
<path d="M7.2 -11.8 L0.8 -6.75 L7.2 -1.7" fill="none" stroke="#000" stroke-width="0.9"/>
<text x="7" y="0" font-family='"Liberation Serif", serif' font-size="16" font-style="italic" fill="#000">f</text>
<text x="12.5" y="5.5" font-family='"Liberation Serif", serif' font-size="10.5" font-style="italic" fill="#000">X</text>
<text x="17.4" y="-10.2" font-family='"Liberation Serif", serif' font-size="10" font-style="italic" fill="#000">(I)</text>
<text x="28.1" y="0" font-family='"Liberation Serif", serif' font-size="16" fill="#000">(<tspan font-style="italic">t</tspan>)</text>
<path d="M43.8 -11.8 L50.8 -6.75 L43.8 -1.7" fill="none" stroke="#000" stroke-width="0.9"/>
<text x="52" y="6.5" font-family='"Liberation Serif", serif' font-size="10.5" font-style="italic" fill="#000">r</text>
</g>
<g transform="translate(375.5,181) rotate(-90)">
<path d="M6.1 -10.5 L0.4 -5.35 L6.1 -0.2" fill="none" stroke="#000" stroke-width="0.9"/>
<text x="8.1" y="0" font-family='"Liberation Serif", serif' font-size="16" font-style="italic" fill="#000">g</text>
<text x="15.5" y="7.6" font-family='"Liberation Serif", serif' font-size="9.5" font-style="italic" fill="#000">tot</text>
<text x="16.8" y="-9.5" font-family='"Liberation Serif", serif' font-size="10" font-style="italic" fill="#000">(I)</text>
<text x="27.3" y="0" font-family='"Liberation Serif", serif' font-size="16.5" fill="#000">(<tspan font-style="italic">t</tspan>)</text>
<path d="M42.6 -10.5 L49.8 -5.35 L42.6 -0.2" fill="none" stroke="#000" stroke-width="0.9"/>
<text x="50.3" y="6.4" font-family='"Liberation Serif", serif' font-size="10.5" font-style="italic" fill="#000">r</text>
</g>
<g transform="translate(377,227.3) rotate(-90)">
<text x="0.4" y="0" font-family='"Liberation Serif", serif' font-size="16.5" font-style="italic" fill="#000">R</text>
<text x="11.8" y="7.5" font-family='"Liberation Serif", serif' font-size="9.5" fill="#000">GR</text>
<text x="11.4" y="-9.4" font-family='"Liberation Serif", serif' font-size="10" font-style="italic" fill="#000">(I)</text>
<text x="25.2" y="-1.6" font-family='"Liberation Serif", serif' font-size="16.5" fill="#000">(<tspan font-style="italic">t</tspan>)</text>
</g>
<path d="M603.6 25.87 H606.7" stroke="#000" stroke-width="1.6" stroke-dasharray="1.2 0.7"/>
<path d="M616.7 25.87 H668.8" stroke="#000" stroke-width="1.6" stroke-dasharray="1.2 1.22"/>
<rect x="682.6" y="25.07" width="1.2" height="1.6" fill="#000"/>
<path d="M603 30.6 H695.6" stroke="#000" stroke-width="1.6" stroke-dasharray="1.2 1.21"/>
<rect x="603" y="34.54" width="1.2" height="1.6" fill="#000"/>
<path d="M606.7 35.34 H609.8" stroke="#000" stroke-width="1.6" stroke-dasharray="1.2 0.7"/>
<path d="M616.1 35.34 H667.6" stroke="#000" stroke-width="1.6" stroke-dasharray="1.2 2.15"/>
<rect x="680.7" y="34.54" width="1.2" height="1.6" fill="#000"/>
<rect x="595.5" y="39.27" width="1.2" height="1.6" fill="#000"/>
<rect x="603.6" y="39.27" width="1.2" height="1.6" fill="#000"/>
<rect x="612.4" y="39.27" width="1.2" height="1.6" fill="#000"/>
<path d="M616.7 40.07 H670" stroke="#000" stroke-width="1.6" stroke-dasharray="1.2 1.17"/>
<rect x="691.9" y="39.27" width="1.2" height="1.6" fill="#000"/>
<rect x="698.8" y="39.27" width="1.2" height="1.6" fill="#000"/>
<path d="M596.1 44.8 H612.3" stroke="#000" stroke-width="1.6" stroke-dasharray="1.2 2.55"/>
<path d="M619.2 44.8 H666.9" stroke="#000" stroke-width="1.6" stroke-dasharray="1.2 2.38"/>
<rect x="685.7" y="44" width="1.2" height="1.6" fill="#000"/>
<path d="M603 49.54 H606.1" stroke="#000" stroke-width="1.6" stroke-dasharray="1.2 0.7"/>
<rect x="609.9" y="48.74" width="1.2" height="1.6" fill="#000"/>
<path d="M618.6 49.54 H669.4" stroke="#000" stroke-width="1.6" stroke-dasharray="1.2 1.72"/>
<rect x="676.4" y="48.74" width="1.2" height="1.6" fill="#000"/>
<rect x="694.4" y="48.74" width="1.2" height="1.6" fill="#000"/>
<path d="M603 54.27 H612.3" stroke="#000" stroke-width="1.6" stroke-dasharray="1.2 2.85"/>
<path d="M616.7 54.27 H669.4" stroke="#000" stroke-width="1.6" stroke-dasharray="1.2 1.83"/>
<rect x="684.4" y="53.47" width="1.2" height="1.6" fill="#000"/>
<rect x="594.9" y="58.2" width="1.2" height="1.6" fill="#000"/>
<path d="M603.6 59 H611.7" stroke="#000" stroke-width="1.6" stroke-dasharray="1.2 2.25"/>
<path d="M618.6 59 H667.6" stroke="#000" stroke-width="1.6" stroke-dasharray="1.2 2.21"/>
<rect x="691.3" y="58.2" width="1.2" height="1.6" fill="#000"/>
<rect x="697.5" y="58.2" width="1.2" height="1.6" fill="#000"/>
<path d="M594.9 63.73 H601.1" stroke="#000" stroke-width="1.6" stroke-dasharray="1.2 1.3"/>
<path d="M603 63.73 H695" stroke="#000" stroke-width="1.6" stroke-dasharray="1.2 1.19"/>
<rect x="594.9" y="67.67" width="1.2" height="1.6" fill="#000"/>
<rect x="603" y="67.67" width="1.2" height="1.6" fill="#000"/>
<rect x="609.2" y="67.67" width="1.2" height="1.6" fill="#000"/>
<path d="M617.4 68.47 H669.4" stroke="#000" stroke-width="1.6" stroke-dasharray="1.2 1.22"/>
<rect x="690" y="67.67" width="1.2" height="1.6" fill="#000"/>
<path d="M594.52 124.5 L603 124.5 L603.5 77.38 L604 118.5 L693.5 118.5 L694 124.5 L702.28 124.5" fill="none" stroke="#b8b8b8" stroke-width="1.0" stroke-linejoin="round" />
<path d="M594.52 123.5 L603 123.5 L603.5 110.78 L604 123.5 L615.17 123.5 L616.97 119.14 L617.87 118.5 L665.91 118.5 L667.71 121.22 L669.5 123.5 L693.5 123.5 L702.28 123.5" fill="none" stroke="#111" stroke-width="1.0" stroke-linejoin="round" />
<path d="M594.52 177.5 L603 177.5 L603.5 143.26 L604 172.5 L615.62 172.5 L616.52 174.52 L617.42 177.5 L667.44 177.5 L669.05 173.78 L670.85 172.5 L691.95 172.5 L692.85 174.52 L693.75 177.5 L702.28 177.5" fill="none" stroke="#111" stroke-width="1.0" stroke-linejoin="round" />
<path d="M594.52 229.5 L603 229.5 L603.5 187.96 L604 222.5 L615.8 222.5 L616.7 227.19 L617.15 229.5 L667.26 229.5 L668.87 224.57 L670.76 222.5 L688.81 222.5 L689.89 225.88 L690.79 229.5 L702.28 229.5" fill="none" stroke="#111" stroke-width="1.0" stroke-linejoin="round" />
<rect x="594.75" y="21.2" width="107.5" height="52" fill="none" stroke="#111" stroke-width="1.3"/>
<path d="M603.5 73.2 V68.8" stroke="#000" stroke-width="1"/>
<path d="M603.5 21.2 V25.6" stroke="#000" stroke-width="1"/>
<path d="M625.5 73.2 V71" stroke="#000" stroke-width="1"/>
<path d="M625.5 21.2 V23.4" stroke="#000" stroke-width="1"/>
<path d="M648.5 73.2 V68.8" stroke="#000" stroke-width="1"/>
<path d="M648.5 21.2 V25.6" stroke="#000" stroke-width="1"/>
<path d="M670.5 73.2 V71" stroke="#000" stroke-width="1"/>
<path d="M670.5 21.2 V23.4" stroke="#000" stroke-width="1"/>
<path d="M693.5 73.2 V68.8" stroke="#000" stroke-width="1"/>
<path d="M693.5 21.2 V25.6" stroke="#000" stroke-width="1"/>
<rect x="594.75" y="73.2" width="107.5" height="52.2" fill="none" stroke="#111" stroke-width="1.3"/>
<path d="M603.5 125.4 V121" stroke="#000" stroke-width="1"/>
<path d="M625.5 125.4 V123.2" stroke="#000" stroke-width="1"/>
<path d="M648.5 125.4 V121" stroke="#000" stroke-width="1"/>
<path d="M670.5 125.4 V123.2" stroke="#000" stroke-width="1"/>
<path d="M693.5 125.4 V121" stroke="#000" stroke-width="1"/>
<rect x="594.75" y="125.4" width="107.5" height="52.1" fill="none" stroke="#111" stroke-width="1.3"/>
<path d="M603.5 177.5 V173.1" stroke="#000" stroke-width="1"/>
<path d="M625.5 177.5 V175.3" stroke="#000" stroke-width="1"/>
<path d="M648.5 177.5 V173.1" stroke="#000" stroke-width="1"/>
<path d="M670.5 177.5 V175.3" stroke="#000" stroke-width="1"/>
<path d="M693.5 177.5 V173.1" stroke="#000" stroke-width="1"/>
<rect x="594.75" y="177.5" width="107.5" height="52.3" fill="none" stroke="#111" stroke-width="1.3"/>
<path d="M603.5 229.8 V225.4" stroke="#000" stroke-width="1"/>
<path d="M625.5 229.8 V227.6" stroke="#000" stroke-width="1"/>
<path d="M648.5 229.8 V225.4" stroke="#000" stroke-width="1"/>
<path d="M670.5 229.8 V227.6" stroke="#000" stroke-width="1"/>
<path d="M693.5 229.8 V225.4" stroke="#000" stroke-width="1"/>
<path d="M594.75 63.5 H598.95 M702.25 63.5 H698.05" stroke="#000" stroke-width="1"/>
<path d="M594.75 49.5 H597.05 M702.25 49.5 H699.95" stroke="#000" stroke-width="1"/>
<path d="M594.75 35.5 H598.95 M702.25 35.5 H698.05" stroke="#000" stroke-width="1"/>
<path d="M594.75 114.5 H598.95 M702.25 114.5 H698.05" stroke="#000" stroke-width="1"/>
<path d="M594.75 99.5 H597.05 M702.25 99.5 H699.95" stroke="#000" stroke-width="1"/>
<path d="M594.75 83.5 H598.95 M702.25 83.5 H698.05" stroke="#000" stroke-width="1"/>
<path d="M594.75 170.5 H598.95 M702.25 170.5 H698.05" stroke="#000" stroke-width="1"/>
<path d="M594.75 151.5 H597.05 M702.25 151.5 H699.95" stroke="#000" stroke-width="1"/>
<path d="M594.75 132.5 H598.95 M702.25 132.5 H698.05" stroke="#000" stroke-width="1"/>
<path d="M594.75 229.5 H598.95 M702.25 229.5 H698.05" stroke="#000" stroke-width="1"/>
<path d="M594.75 210.5 H597.05 M702.25 210.5 H699.95" stroke="#000" stroke-width="1"/>
<path d="M594.75 190.5 H598.95 M702.25 190.5 H698.05" stroke="#000" stroke-width="1"/>
<text x="590.05" y="40.44" font-family='"Liberation Sans", sans-serif' font-size="14.6" text-anchor="end" fill="#000">8</text>
<text x="590.05" y="68.83" font-family='"Liberation Sans", sans-serif' font-size="14.6" text-anchor="end" fill="#000">2</text>
<text x="590.05" y="88.74" font-family='"Liberation Sans", sans-serif' font-size="14.6" text-anchor="end" fill="#000">200</text>
<text x="590.05" y="120.06" font-family='"Liberation Sans", sans-serif' font-size="14.6" text-anchor="end" fill="#000">50</text>
<text x="590.05" y="137.94" font-family='"Liberation Sans", sans-serif' font-size="14.6" text-anchor="end" fill="#000">600</text>
<text x="590.05" y="175.16" font-family='"Liberation Sans", sans-serif' font-size="14.6" text-anchor="end" fill="#000">100</text>
<text x="590.05" y="195.68" font-family='"Liberation Sans", sans-serif' font-size="14.6" text-anchor="end" fill="#000">150</text>
<text x="590.05" y="234.9" font-family='"Liberation Sans", sans-serif' font-size="14.6" text-anchor="end" fill="#000">0</text>
<text x="603.5" y="245.6" font-family='"Liberation Sans", sans-serif' font-size="15" text-anchor="middle" fill="#000">0</text>
<text x="648.4" y="245.6" font-family='"Liberation Sans", sans-serif' font-size="15" text-anchor="middle" fill="#000">500</text>
<text x="693.3" y="245.6" font-family='"Liberation Sans", sans-serif' font-size="15" text-anchor="middle" fill="#000">1000</text>
<text x="623.25" y="262.8" font-family='"Liberation Serif", serif' font-size="14" font-style="italic" fill="#000">t</text>
<text x="631.95" y="262.8" font-family='"Liberation Serif", serif' font-size="14" fill="#000">(msec)</text>
<text x="593.85" y="17" font-family='"Liberation Serif", serif' font-size="13" fill="#000" font-style="italic">I</text>
<text x="598.65" y="17" font-family='"Liberation Serif", serif' font-size="13" fill="#000">=</text>
<text x="606.8" y="17" font-family='"Liberation Serif", serif' font-size="13" fill="#000">654</text>
<text x="626.8" y="17" font-family='"Liberation Serif", serif' font-size="13" fill="#000">,</text>
<text x="662.35" y="17" font-family='"Liberation Serif", serif' font-size="13" fill="#000">=</text>
<text x="672.35" y="17" font-family='"Liberation Serif", serif' font-size="13" fill="#000">−</text>
<text x="679.1" y="17" font-family='"Liberation Serif", serif' font-size="13" fill="#000">0.27</text>
<g transform="translate(633.6,8) scale(0.6954,0.7087)" fill="none" stroke="#000" stroke-linecap="round" stroke-linejoin="round">
<path d="M1.2 10.2C0 11.2 0.6 12.4 1.8 11.8C3.5 10.8 6 5 8 1" stroke-width="1.43"/>
<path d="M8.2 0.9C8 4.5 7.7 8.5 7.8 11.9" stroke-width="3.12"/>
<path d="M8.3 6.8C10.5 4.5 13 2 15.2 0.9" stroke-width="1.3"/>
<path d="M15.3 0.9C14.4 4.5 13.4 9 13.8 11.3" stroke-width="2.99"/>
<path d="M13.8 11.3C14.3 12.3 15.8 11.5 16.9 9.9" stroke-width="1.43"/>
</g>
<text x="645.6" y="9.6" font-family='"Liberation Serif", serif' font-size="7.3" fill="#000">(654)</text>
<text x="557.05" y="15.1" font-family='"Liberation Sans", sans-serif' font-size="17" font-weight="bold" fill="#000">(a4)</text>
<g transform="translate(579.45,47.1) rotate(-90)">
<text x="-2.9" y="0" font-family='"Liberation Serif", serif' font-size="16.5" font-style="italic" fill="#000">i</text>
</g>
<g transform="translate(554.25,121.5) rotate(-90)">
<path d="M7.2 -11.8 L0.8 -6.75 L7.2 -1.7" fill="none" stroke="#000" stroke-width="0.9"/>
<text x="7" y="0" font-family='"Liberation Serif", serif' font-size="16" font-style="italic" fill="#000">f</text>
<text x="12.5" y="5.5" font-family='"Liberation Serif", serif' font-size="10.5" font-style="italic" fill="#000">X</text>
<text x="17.4" y="-10.2" font-family='"Liberation Serif", serif' font-size="10" font-style="italic" fill="#000">(I)</text>
<text x="28.1" y="0" font-family='"Liberation Serif", serif' font-size="16" fill="#000">(<tspan font-style="italic">t</tspan>)</text>
<path d="M43.8 -11.8 L50.8 -6.75 L43.8 -1.7" fill="none" stroke="#000" stroke-width="0.9"/>
<text x="52" y="6.5" font-family='"Liberation Serif", serif' font-size="10.5" font-style="italic" fill="#000">r</text>
</g>
<g transform="translate(554.75,181) rotate(-90)">
<path d="M6.1 -10.5 L0.4 -5.35 L6.1 -0.2" fill="none" stroke="#000" stroke-width="0.9"/>
<text x="8.1" y="0" font-family='"Liberation Serif", serif' font-size="16" font-style="italic" fill="#000">g</text>
<text x="15.5" y="7.6" font-family='"Liberation Serif", serif' font-size="9.5" font-style="italic" fill="#000">tot</text>
<text x="16.8" y="-9.5" font-family='"Liberation Serif", serif' font-size="10" font-style="italic" fill="#000">(I)</text>
<text x="27.3" y="0" font-family='"Liberation Serif", serif' font-size="16.5" fill="#000">(<tspan font-style="italic">t</tspan>)</text>
<path d="M42.6 -10.5 L49.8 -5.35 L42.6 -0.2" fill="none" stroke="#000" stroke-width="0.9"/>
<text x="50.3" y="6.4" font-family='"Liberation Serif", serif' font-size="10.5" font-style="italic" fill="#000">r</text>
</g>
<g transform="translate(556.25,227.3) rotate(-90)">
<text x="0.4" y="0" font-family='"Liberation Serif", serif' font-size="16.5" font-style="italic" fill="#000">R</text>
<text x="11.8" y="7.5" font-family='"Liberation Serif", serif' font-size="9.5" fill="#000">GR</text>
<text x="11.4" y="-9.4" font-family='"Liberation Serif", serif' font-size="10" font-style="italic" fill="#000">(I)</text>
<text x="25.2" y="-1.6" font-family='"Liberation Serif", serif' font-size="16.5" fill="#000">(<tspan font-style="italic">t</tspan>)</text>
</g>
<text x="108.3" y="87.6" font-family='"Liberation Serif", serif' font-size="11.8" fill="#000">Gray: MF</text>
<text x="108.3" y="102.6" font-family='"Liberation Serif", serif' font-size="11.8" fill="#000">Black: GO</text>
<rect x="334.53" y="385.12" width="8.79" height="0.98" fill="#c4c4c4" stroke="#222" stroke-width="1"/>
<rect x="343.31" y="379.61" width="8.78" height="6.49" fill="#c4c4c4" stroke="#222" stroke-width="1"/>
<rect x="352.1" y="374.19" width="8.79" height="11.91" fill="#c4c4c4" stroke="#222" stroke-width="1"/>
<rect x="360.88" y="365.21" width="8.78" height="20.89" fill="#c4c4c4" stroke="#222" stroke-width="1"/>
<rect x="369.67" y="351.94" width="8.79" height="34.16" fill="#c4c4c4" stroke="#222" stroke-width="1"/>
<rect x="378.45" y="342.38" width="8.79" height="43.72" fill="#c4c4c4" stroke="#222" stroke-width="1"/>
<rect x="387.24" y="327.2" width="8.78" height="58.9" fill="#c4c4c4" stroke="#222" stroke-width="1"/>
<rect x="396.02" y="321.39" width="8.79" height="64.71" fill="#c4c4c4" stroke="#222" stroke-width="1"/>
<rect x="404.81" y="314.51" width="8.78" height="71.59" fill="#c4c4c4" stroke="#222" stroke-width="1"/>
<rect x="413.59" y="316.02" width="8.79" height="70.08" fill="#c4c4c4" stroke="#222" stroke-width="1"/>
<rect x="422.38" y="324.32" width="8.78" height="61.78" fill="#c4c4c4" stroke="#222" stroke-width="1"/>
<rect x="431.16" y="343.2" width="8.79" height="42.9" fill="#c4c4c4" stroke="#222" stroke-width="1"/>
<rect x="439.95" y="384.15" width="8.78" height="1.95" fill="#c4c4c4" stroke="#222" stroke-width="1"/>
<rect x="290.6" y="288.5" width="175.7" height="97.6" fill="none" stroke="#000" stroke-width="1.3"/>
<path d="M290.6 386.1 V382.7 M290.6 288.5 V291.9" stroke="#000" stroke-width="1"/>
<path d="M334.53 386.1 V383.9 M334.53 288.5 V290.7" stroke="#000" stroke-width="1"/>
<path d="M378.45 386.1 V382.7 M378.45 288.5 V291.9" stroke="#000" stroke-width="1"/>
<path d="M422.38 386.1 V383.9 M422.38 288.5 V290.7" stroke="#000" stroke-width="1"/>
<path d="M466.3 386.1 V382.7 M466.3 288.5 V291.9" stroke="#000" stroke-width="1"/>
<path d="M290.6 386.1 H294 M466.3 386.1 H462.9" stroke="#000" stroke-width="1"/>
<path d="M290.6 361.7 H292.8 M466.3 361.7 H464.1" stroke="#000" stroke-width="1"/>
<path d="M290.6 337.3 H294 M466.3 337.3 H462.9" stroke="#000" stroke-width="1"/>
<path d="M290.6 312.9 H292.8 M466.3 312.9 H464.1" stroke="#000" stroke-width="1"/>
<path d="M290.6 288.5 H294 M466.3 288.5 H462.9" stroke="#000" stroke-width="1"/>
<text x="283.8" y="292.9" font-family='"Liberation Sans", sans-serif' font-size="14.5" text-anchor="end" fill="#000">0.2</text>
<text x="283.8" y="342.1" font-family='"Liberation Sans", sans-serif' font-size="14.5" text-anchor="end" fill="#000">0.1</text>
<text x="283.8" y="391.3" font-family='"Liberation Sans", sans-serif' font-size="14.5" text-anchor="end" fill="#000">0.0</text>
<text x="289.1" y="404.4" font-family='"Liberation Sans", sans-serif' font-size="14.5" text-anchor="middle" fill="#000">-1</text>
<text x="378.45" y="404.4" font-family='"Liberation Sans", sans-serif' font-size="14.5" text-anchor="middle" fill="#000">0</text>
<text x="466.3" y="404.4" font-family='"Liberation Sans", sans-serif' font-size="14.5" text-anchor="middle" fill="#000">1</text>
<text x="295.6" y="307" font-family='"Liberation Sans", sans-serif' font-size="16" font-weight="bold" fill="#000">(b)</text>
<g transform="translate(249.3,403.3) rotate(-90)">
<text x="0" y="0" font-family='"Liberation Serif", serif' font-size="18.3" fill="#000">Fraction</text>
<text x="64.2" y="0" font-family='"Liberation Serif", serif' font-size="18.3" fill="#000">of</text>
<text x="105.4" y="-10.8" font-family='"Liberation Serif", serif' font-size="9.8" font-style="italic" fill="#000">(I)</text>
<text x="113" y="6.6" font-family='"Liberation Serif", serif' font-size="10.5" fill="#000">in</text>
</g>
<g transform="translate(249.3,403.3) rotate(-90)">
<g transform="translate(88.7,-11.1) scale(0.8046,0.8898)" fill="none" stroke="#000" stroke-linecap="round" stroke-linejoin="round">
<path d="M1.2 10.2C0 11.2 0.6 12.4 1.8 11.8C3.5 10.8 6 5 8 1" stroke-width="1.43"/>
<path d="M8.2 0.9C8 4.5 7.7 8.5 7.8 11.9" stroke-width="3.12"/>
<path d="M8.3 6.8C10.5 4.5 13 2 15.2 0.9" stroke-width="1.3"/>
<path d="M15.3 0.9C14.4 4.5 13.4 9 13.8 11.3" stroke-width="2.99"/>
<path d="M13.8 11.3C14.3 12.3 15.8 11.5 16.9 9.9" stroke-width="1.43"/>
</g>
</g>
<g transform="translate(364.7,413.4) scale(1.0000,1.0000)" fill="none" stroke="#000" stroke-linecap="round" stroke-linejoin="round">
<path d="M1.2 10.2C0 11.2 0.6 12.4 1.8 11.8C3.5 10.8 6 5 8 1" stroke-width="1.1"/>
<path d="M8.2 0.9C8 4.5 7.7 8.5 7.8 11.9" stroke-width="2.4"/>
<path d="M8.3 6.8C10.5 4.5 13 2 15.2 0.9" stroke-width="1"/>
<path d="M15.3 0.9C14.4 4.5 13.4 9 13.8 11.3" stroke-width="2.3"/>
<path d="M13.8 11.3C14.3 12.3 15.8 11.5 16.9 9.9" stroke-width="1.1"/>
</g>
<text x="383.7" y="415.8" font-family='"Liberation Serif", serif' font-size="10.7" font-style="italic" fill="#000">(I)</text>
<text x="387.6" y="432.1" font-family='"Liberation Serif", serif' font-size="10.4" fill="#000">in</text>
</svg></body></html>
